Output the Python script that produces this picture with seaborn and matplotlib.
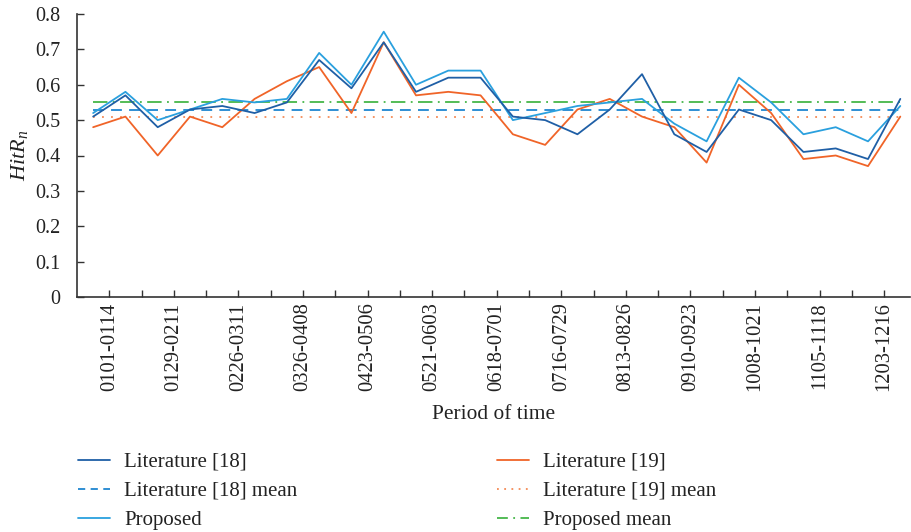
import numpy as np
import pandas as pd
import matplotlib
matplotlib.use("Agg")
import matplotlib.pyplot as plt
import seaborn as sns
from matplotlib.lines import Line2D

# ---- data ----
tick_labels = ["0101-0114", "0129-0211", "0226-0311", "0326-0408", "0423-0506",
               "0521-0603", "0618-0701", "0716-0729", "0813-0826", "0910-0923",
               "1008-1021", "1105-1118", "1203-1216"]
lit18 = [0.51, 0.57, 0.48, 0.53, 0.54, 0.52, 0.55, 0.67, 0.59, 0.72, 0.58, 0.62, 0.62,
         0.51, 0.50, 0.46, 0.53, 0.63, 0.46, 0.41, 0.53, 0.50, 0.41, 0.42, 0.39, 0.56]
lit19 = [0.48, 0.51, 0.40, 0.51, 0.48, 0.56, 0.61, 0.65, 0.52, 0.72, 0.57, 0.58, 0.57,
         0.46, 0.43, 0.53, 0.56, 0.51, 0.48, 0.38, 0.60, 0.52, 0.39, 0.40, 0.37, 0.51]
proposed = [0.52, 0.58, 0.50, 0.53, 0.56, 0.55, 0.56, 0.69, 0.60, 0.75, 0.60, 0.64, 0.64,
            0.50, 0.52, 0.54, 0.55, 0.56, 0.49, 0.44, 0.62, 0.55, 0.46, 0.48, 0.44, 0.54]
lit18_mean = 0.53
lit19_mean = 0.51
proposed_mean = 0.55

# ---- style ----
sns.set_style("ticks")
plt.rcParams['font.family'] = ['Liberation Serif', 'DejaVu Serif']
plt.rcParams['mathtext.fontset'] = 'custom'
plt.rcParams['mathtext.it'] = 'Liberation Serif:italic'
plt.rcParams['mathtext.rm'] = 'Liberation Serif'

c18 = "#1f5fa6"
c19 = "#f06428"
cprop = "#2aa0de"
c18m = "#1f86d0"
c19m = "#f58a55"
cpm = "#45b649"

n = len(lit18)
df = pd.DataFrame({"idx": np.arange(n), "lit18": lit18, "lit19": lit19, "proposed": proposed,
                   "m18": [lit18_mean] * n, "m19": [lit19_mean] * n, "mp": [proposed_mean] * n})

fig = plt.figure(figsize=(9.11, 5.32), dpi=100)
ax = fig.add_axes([77 / 911, 1 - 297 / 532, (910 - 77) / 911, (297 - 14) / 532])

lw = 1.3
sns.lineplot(data=df, x="idx", y="m18", ax=ax, color=c18m, lw=lw, linestyle=(0, (6, 4)))
sns.lineplot(data=df, x="idx", y="m19", ax=ax, color=c19m, lw=lw, linestyle=(0, (1, 4)))
sns.lineplot(data=df, x="idx", y="mp", ax=ax, color=cpm, lw=lw, linestyle=(0, (8, 3, 1, 3)))
sns.lineplot(data=df, x="idx", y="lit19", ax=ax, color=c19, lw=lw)
sns.lineplot(data=df, x="idx", y="proposed", ax=ax, color=cprop, lw=lw)
sns.lineplot(data=df, x="idx", y="lit18", ax=ax, color=c18, lw=lw)

ax.set_xlim(-0.5, 25.3)
ax.set_ylim(0, 0.8)
ax.set_yticks(np.arange(0, 0.81, 0.1))
ax.set_yticklabels(["0"] + [f"{v:.1f}" for v in np.arange(0.1, 0.81, 0.1)])
minor = np.arange(0.5, 25, 1.0)
ax.set_xticks(minor)
ax.set_xticklabels([tick_labels[i // 2] if i % 2 == 0 else "" for i in range(len(minor))],
                   rotation=90)
ax.tick_params(axis="both", direction="in", length=5, width=1, color="#333333",
               labelcolor="#222222")
ax.tick_params(axis="y", pad=12, labelsize=14.5)
ax.tick_params(axis="x", pad=4, labelsize=14.8)
for s in ["top", "right"]:
    ax.spines[s].set_visible(False)
for s in ["left", "bottom"]:
    ax.spines[s].set_linewidth(1.2)
    ax.spines[s].set_color("#333333")

ax.set_xlabel("Period of time", fontsize=15.4, labelpad=10, color="#222222")
ax.set_ylabel(r"$HitR_n$", fontsize=16, labelpad=4, color="#222222")

fs = 15
h1 = [Line2D([], [], color=c18, lw=lw),
      Line2D([], [], color=c18m, lw=lw, linestyle=(0, (4, 3))),
      Line2D([], [], color=cprop, lw=lw)]
l1 = ["Literature [18]", "Literature [18] mean", "Proposed"]
h2 = [Line2D([], [], color=c19, lw=lw),
      Line2D([], [], color=c19m, lw=lw, linestyle=(0, (1, 3))),
      Line2D([], [], color=cpm, lw=lw, linestyle=(0, (6, 3, 1, 3)))]
l2 = ["Literature [19]", "Literature [19] mean", "Proposed mean"]
kw = dict(loc="upper left", frameon=False, fontsize=fs, handlelength=1.5,
          handletextpad=0.7, labelspacing=0.45, borderaxespad=0)
leg1 = fig.legend(h1, l1, bbox_to_anchor=(70 / 911, 1 - 444 / 532), **kw)
leg2 = fig.legend(h2, l2, bbox_to_anchor=(489 / 911, 1 - 444 / 532), **kw)
for lg in (leg1, leg2):
    for t in lg.get_texts():
        t.set_color("#222222")

fig.savefig("out.png", dpi=100)
